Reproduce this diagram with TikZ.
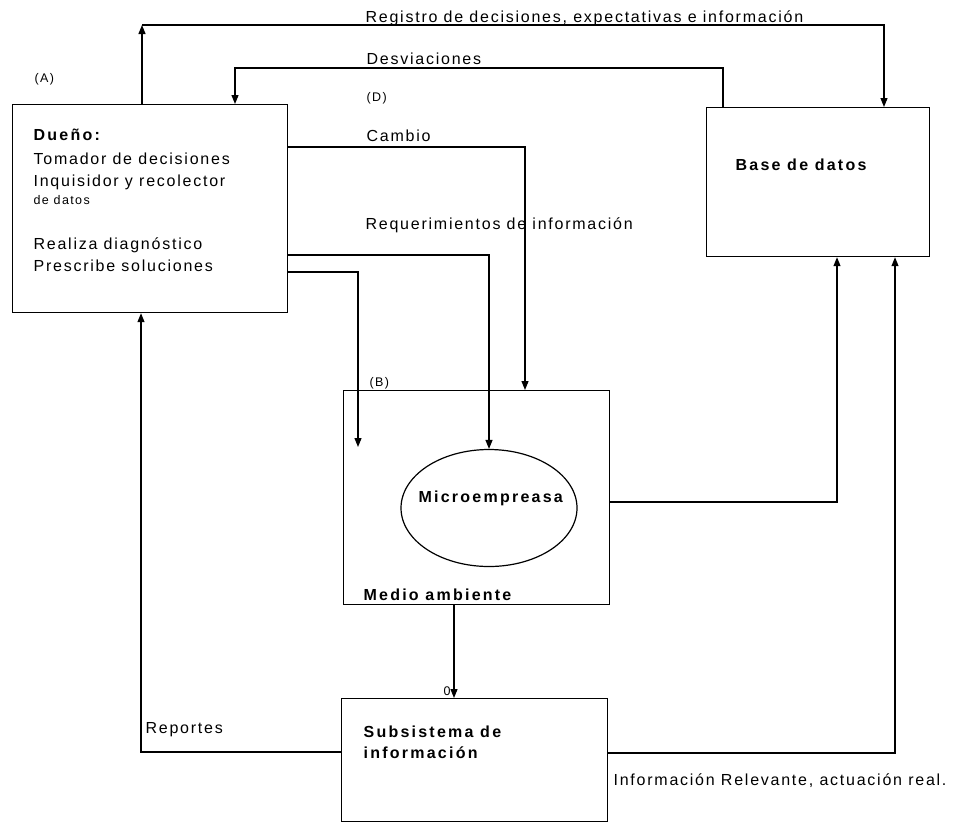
\documentclass[tikz,border=0pt]{standalone}
\usepackage{fontspec}
\setmainfont{Liberation Sans}[LetterSpace=11]
\usetikzlibrary{arrows.meta,shapes.geometric}
\begin{document}
\begin{tikzpicture}[x=1pt,y=-1pt,
  line width=1.2pt,
  box/.style={draw, rectangle, inner sep=0pt, anchor=north west},
  arr/.style={-{Triangle[length=9pt,width=7pt]}},
  txt/.style={font=\fontsize{16}{19}\selectfont, inner sep=0pt, anchor=base west},
  btxt/.style={font=\fontsize{16}{19}\selectfont\bfseries\addfontfeature{LetterSpace=14}, inner sep=0pt, anchor=base west},
  stxt/.style={font=\fontsize{12.5}{14}\selectfont, inner sep=0pt, anchor=base west}]
\useasboundingbox (0,0) rectangle (955,823);
% boxes
\node[box, minimum width=275pt, minimum height=208pt] (dueno) at (12,104) {};
\node[box, minimum width=223pt, minimum height=149pt] (base) at (706,107) {};
\node[box, minimum width=266pt, minimum height=214pt] (medio) at (343,390) {};
\node[draw, ellipse, minimum width=176pt, minimum height=117pt, inner sep=0pt] (micro) at (489,508) {};
\node[box, minimum width=266pt, minimum height=123pt] (subs) at (341,698) {};
% texts in boxes
\node[btxt] (t1) at (33,140) {Dueño:};
\node[txt] (t2) at (33,164) {Tomador de decisiones};
\node[txt] (t3) at (33,186) {Inquisidor y recolector};
\node[stxt] (t4) at (33,204) {de datos};
\node[txt] (t5) at (33,249) {Realiza diagnóstico};
\node[txt] (t6) at (33,271) {Prescribe soluciones};
\node[btxt] (tb) at (735,170) {Base de datos};
\node[btxt] (tm) at (418,502) {Microempreasa};
\node[btxt] (tma) at (363,600) {Medio ambiente};
\node[btxt] (ts1) at (363,737) {Subsistema de};
\node[btxt] (ts2) at (363,758) {información};
% labels
\node[txt] (l1) at (365,22) {Registro de decisiones, expectativas e información};
\node[txt] (l2) at (366,64) {Desviaciones};
\node[stxt] (la) at (34,82) {(A)};
\node[stxt] (ld) at (366,101) {(D)};
\node[txt] (l3) at (366,141) {Cambio};
\node[txt] (l4) at (365,229) {Requerimientos de información};
\node[stxt] (lb) at (369,386) {(B)};
\node[stxt] (l0) at (443,695) {0};
\node[txt] (l5) at (145,733) {Reportes};
\node[txt] (l6) at (613,785) {Información Relevante, actuación real.};
% connectors
\coordinate (r1) at (142,25); \coordinate (r2) at (884,25);
\draw[arr] (dueno.north -| r1) -- (r1);
\draw[arr] (r1) -- (r2) -- (base.north -| r2);
\coordinate (d1) at (723,68); \coordinate (d2) at (235,68);
\draw[arr] (base.north -| d1) -- (d1) -- (d2) -- (dueno.north -| d2);
\coordinate (c1) at (525,147);
\draw[arr] (dueno.east |- c1) -- (c1) -- (medio.north -| c1);
\coordinate (q1) at (489,255);
\draw[arr] (dueno.east |- q1) -- (q1) -- (micro.north);
\coordinate (p1) at (358,272); \coordinate (p2) at (358,447);
\draw[arr] (dueno.east |- p1) -- (p1) -- (p2);
\coordinate (m1) at (837,502);
\draw[arr] (medio.east |- m1) -- (m1) -- (base.south -| m1);
\coordinate (s0) at (454,650);
\draw[arr] (medio.south -| s0) -- (subs.north -| s0);
\coordinate (rp) at (141,752);
\draw[arr] (subs.west |- rp) -- (rp) -- (dueno.south -| rp);
\coordinate (ir) at (895,753);
\draw[arr] (subs.east |- ir) -- (ir) -- (base.south -| ir);
\end{tikzpicture}
\end{document}
